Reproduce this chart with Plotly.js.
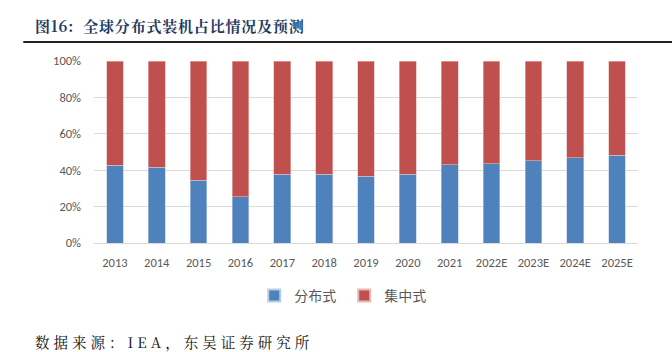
<!DOCTYPE html>
<html>
<head>
<meta charset="utf-8">
<script src="https://cdn.plot.ly/plotly-3.0.1.min.js"></script>
<style>html,body{margin:0;padding:0;background:#fff;}#chart{width:672px;height:352px;}</style>
</head>
<body>
<div id="chart"></div>
<script>
const years = ['2013','2014','2015','2016','2017','2018','2019','2020','2021','2022E','2023E','2024E','2025E'];
const distributed = [42.6, 41.6, 34.6, 25.5, 37.7, 37.7, 36.6, 37.7, 43.0, 43.6, 45.2, 46.9, 48.2];
const centralized = distributed.map(v => +(100 - v).toFixed(1));
const yTicks = [0, 20, 40, 60, 80, 100];
const yTickText = ['0%', '20%', '40%', '60%', '80%', '100%'];

const tickFont = {family: 'Calibri, Carlito, "Open Sans", "Liberation Sans", Arial, sans-serif', size: 12.5, color: '#595959'};

const traces = [
  {type: 'bar', name: '分布式', x: years, y: distributed, marker: {color: '#4f81bd', line: {color: '#b8cce4', width: 0.6}}},
  {type: 'bar', name: '集中式', x: years, y: centralized, marker: {color: '#c0504d', line: {color: '#e6b9b8', width: 0.6}}}
];

const layout = {
  width: 672, height: 352,
  margin: {l: 94, r: 34, t: 61, b: 109},
  paper_bgcolor: '#fff', plot_bgcolor: '#fff',
  barmode: 'stack', bargap: 0.6,
  showlegend: true,
  legend: {orientation: 'h', x: 0.46, xanchor: 'center', y: -0.29, yanchor: 'middle',
           font: {family: '"Noto Sans CJK SC", sans-serif', size: 14, color: '#595959'},
           traceorder: 'normal', itemwidth: 30, itemsizing: 'constant', entrywidth: 45, entrywidthmode: 'pixels'},
  xaxis: {type: 'category', tickfont: tickFont, showline: true, linecolor: '#d9d9d9', linewidth: 1,
          ticks: '', showgrid: false, ticklabelstandoff: 8},
  yaxis: {range: [0, 100], tickvals: yTicks, ticktext: yTickText, tickfont: tickFont,
          showgrid: true, gridcolor: '#d9d9d9', gridwidth: 1, zeroline: false, ticks: '', ticklabelstandoff: 12},
  shapes: [
    {type: 'line', xref: 'paper', yref: 'paper', x0: -0.13, x1: 1.07,
     y0: 1 + (61 - 42) / 182, y1: 1 + (61 - 42) / 182, line: {color: '#222', width: 2}}
  ],
  annotations: [
    {xref: 'paper', yref: 'paper', x: (33 - 94) / 544, y: 1 + (61 - 25) / 182, xanchor: 'left', yanchor: 'middle',
     text: '<b><span style="letter-spacing:0.8px">图16:  全球分布式装机占比情况及预测</span></b>', showarrow: false,
     font: {family: '"Noto Serif CJK SC", "Noto Sans CJK SC", serif', size: 15, color: '#1f3a5f'}},
    {xref: 'paper', yref: 'paper', x: (33 - 94) / 544, y: (243 - 341) / 182, xanchor: 'left', yanchor: 'middle',
     text: '<span style="letter-spacing:4px">数据来源：IEA，东吴证券研究所</span>', showarrow: false,
     font: {family: '"Noto Serif CJK SC", "Noto Sans CJK SC", serif', size: 14.5, color: '#111'}}
  ]
};

Plotly.newPlot('chart', traces, layout, {displayModeBar: false, staticPlot: true});
</script>
</body>
</html>
